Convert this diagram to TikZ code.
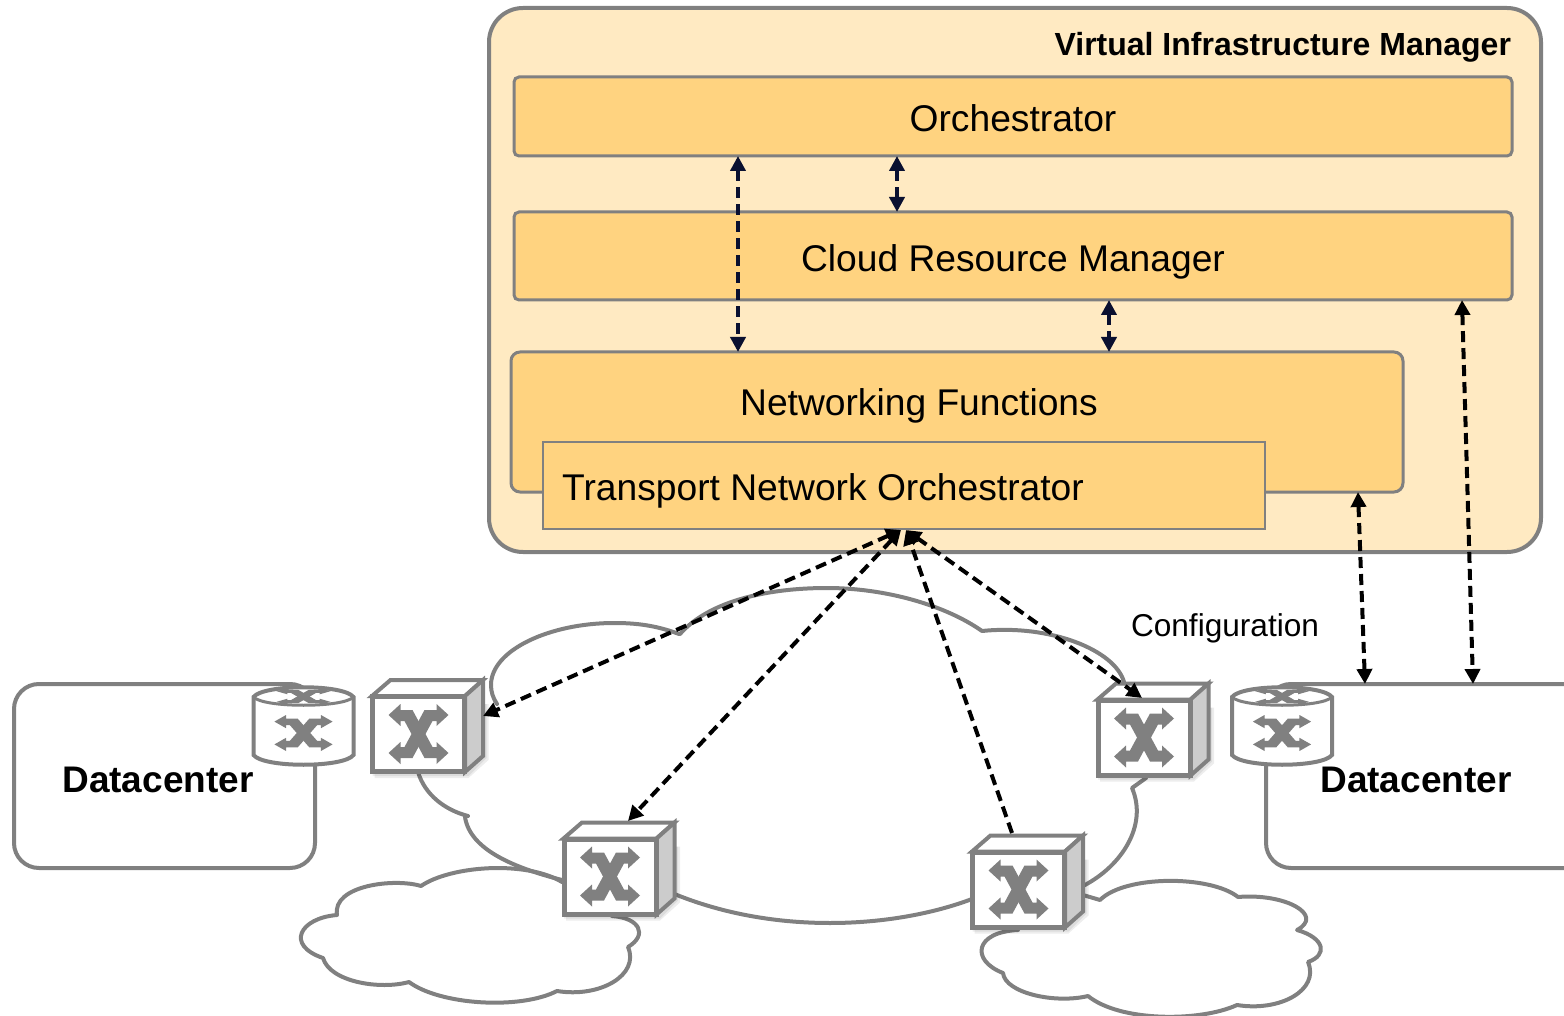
\documentclass[tikz,border=0pt]{standalone}
\usepackage{fontspec}
\setmainfont{Liberation Sans}
\usetikzlibrary{arrows.meta,calc}
\definecolor{grayline}{HTML}{808080}
\definecolor{vimfill}{HTML}{FFEAC2}
\definecolor{boxfill}{HTML}{FFD380}
\definecolor{sidefill}{HTML}{CCCCCC}
\definecolor{navyink}{HTML}{0A1030}
\tikzset{
  x=1pt,y=-1pt,
  every node/.style={inner sep=0pt,outer sep=0pt},
  outerbox/.style={draw=grayline,line width=4pt,fill=vimfill,rounded corners=34pt},
  layerbox/.style={draw=grayline,line width=3pt,fill=boxfill,rounded corners=5pt,font=\fontsize{37.2}{40}\selectfont,text height=31pt,text depth=0pt},
  tnobox/.style={draw=grayline,line width=2.5pt,fill=boxfill},
  dcbox/.style={draw=grayline,line width=4pt,fill=white,rounded corners=25pt},
  mainlabel/.style={font=\fontsize{37.2}{40}\selectfont,anchor=base},
  dclabel/.style={font=\bfseries\fontsize{37}{40}\selectfont,anchor=base},
  vimlabel/.style={font=\bfseries\fontsize{32}{36}\selectfont,anchor=base east},
  conflabel/.style={font=\fontsize{31.6}{36}\selectfont,anchor=base},
  cloudline/.style={draw=grayline,line width=4pt,line cap=round,line join=round},
  link/.style={draw=black,line width=4pt,dash pattern=on 11pt off 6pt,{Triangle[length=15pt,width=15pt]}-{Triangle[length=15pt,width=15pt]}},
  navylink/.style={link,draw=navyink},
  uplink/.style={draw=black,line width=4pt,dash pattern=on 11pt off 6pt,-{Triangle[length=15pt,width=15pt]}},
  unitline/.style={draw=grayline,line width=4pt,line join=miter},
  softshade/.style={fill=black,opacity=.07},
  xglyph/.pic={
    \fill[grayline] (-30,-19)--(-18,-30)--(-18,-24)--(-6,-24)--(14,13)--(18,13)--(18,8)--(30,19)--(18,30)--(18,24)--(6,24)--(-14,-13)--(-18,-13)--(-18,-8)--cycle;
    \fill[grayline] (30,-19)--(18,-30)--(18,-24)--(6,-24)--(-14,13)--(-18,13)--(-18,8)--(-30,19)--(-18,30)--(-18,24)--(-6,24)--(14,-13)--(18,-13)--(18,-8)--cycle;
  },
  switchunit/.pic={
    \fill[softshade] (-44,-30) -- (70,-30) -- (70,26) -- (50,44) -- (-44,44) -- cycle;
    \fill[softshade] (-46,-30) -- (68,-30) -- (68,24) -- (50,42) -- (-46,42) -- cycle;
    \filldraw[unitline,fill=white] (-46.5,-38)--(-28,-54)--(64.5,-54)--(46.5,-38)--cycle;
    \filldraw[unitline,fill=sidefill] (46.5,-38)--(64.5,-54)--(64.5,22)--(46.5,38)--cycle;
    \node[draw=grayline,line width=5pt,fill=white,minimum width=92pt,minimum height=75pt] (-front) at (0,0) {};
    \pic at (0,0) {xglyph};
  },
  routerunit/.pic={
    \filldraw[unitline,fill=white] (-50,-34) -- (-50,24) .. controls (-40,37) and (40,37) .. (50,24) -- (50,-34) .. controls (40,-47) and (-40,-47) .. (-50,-34) -- cycle;
    \draw[unitline,line width=3pt] (-50,-34) .. controls (-40,-23) and (40,-23) .. (50,-34);
    \node (-body) at (0,0) {};
    \pic[xscale=.97,yscale=.6] at (0,2) {xglyph};
    \pic[xscale=.9,yscale=.28] at (0,-34.5) {xglyph};
  }
}
\begin{document}
\begin{tikzpicture}
\useasboundingbox (0,0) rectangle (1564,1016);
% virtual infrastructure manager
\node[outerbox,minimum width=1052pt,minimum height=544pt] (vim) at (1015,280) {};
\node[layerbox,minimum width=998pt,minimum height=79pt] (orch) at (1013,116.5) {Orchestrator};
\node[layerbox,minimum width=998pt,minimum height=88pt] (crm) at (1013,256) {Cloud Resource Manager};
\node[layerbox,rounded corners=9pt,minimum width=892pt,minimum height=140pt] (nf) at (957,422) {};
\node[tnobox,minimum width=722pt,minimum height=87pt] (tno) at (904,485.5) {};
\node[vimlabel] (vimtext) at (1511,55.5) {Virtual Infrastructure Manager};
\node[mainlabel] (nftext) at (919,415) {Networking Functions};
\node[mainlabel] (tnotext) at (823,500) {Transport Network Orchestrator};
\node[conflabel] (conf) at (1225,636) {Configuration};
% clouds
\draw[cloudline]
  (418,772) .. controls (425,795) and (445,810) .. (468,816)
  (465,817) .. controls (470,850) and (515,868) .. (562,880)
  (672,893) .. controls (725,915) and (780,923) .. (830,923) .. controls (885,923) and (935,913) .. (972,899)
  (1083,886) .. controls (1122,866) and (1148,825) .. (1132,788) -- (1146,778)
  (1124,682) .. controls (1115,650) and (1050,624) .. (982,631)
  .. controls (945,605) and (885,588) .. (827,588) .. controls (770,588) and (710,600) .. (680,634)
  (679,634) .. controls (655,625) and (635,623) .. (614,623) .. controls (550,623) and (491,650) .. (491,685) .. controls (491,692) and (493,698) .. (497,704);
\draw[cloudline]
  (562,882) .. controls (525,860) and (450,866) .. (421,886)
  .. controls (395,878) and (332,885) .. (337,915)
  .. controls (300,918) and (285,945) .. (323,958)
  .. controls (330,982) and (380,990) .. (409,982)
  .. controls (440,1005) and (520,1010) .. (557,991)
  .. controls (600,998) and (640,975) .. (628,947)
  .. controls (648,935) and (640,918) .. (612,916);
\draw[cloudline]
  (1083,895) -- (1100,900)
  .. controls (1125,875) and (1210,875) .. (1238,897)
  .. controls (1285,893) and (1325,915) .. (1297,930)
  .. controls (1325,938) and (1328,955) .. (1308,962)
  .. controls (1320,990) and (1280,1012) .. (1237,1005)
  .. controls (1200,1022) and (1120,1022) .. (1088,996)
  .. controls (1055,1004) and (1005,993) .. (1003,973)
  .. controls (970,960) and (975,932) .. (1018,930);
% datacenters
\node[dcbox,minimum width=301pt,minimum height=184pt] (dca) at (164.5,776) {};
\node[dcbox,minimum width=340pt,minimum height=184pt] (dcb) at (1436,776) {};
\node[dclabel] (dcatext) at (158,792) {Datacenter};
\pic (ra) at (303.5,731) {routerunit};
\pic (rb) at (1282,731) {routerunit};
\node[dclabel] (dcbtext) at (1416,792) {Datacenter};
% switches
\pic (sa) at (418.5,734) {switchunit};
\pic (sb) at (610,876.5) {switchunit};
\pic (sc) at (1018.5,889.5) {switchunit};
\pic (sd) at (1144,737.5) {switchunit};
% connector ends
\coordinate (xa) at (738,0);
\coordinate (xb) at (897,0);
\coordinate (xc) at (1109,0);
\coordinate (xd) at (1462,0);
\coordinate (xe) at (1473,0);
\coordinate (xf) at (1358,0);
\coordinate (xg) at (1365,0);
\coordinate (hubl) at (901,530);
\coordinate (hubr) at (906,530);
\coordinate (satip) at (483,716);
\coordinate (sbtip) at (628,821);
\coordinate (sctail) at (1012,833);
\coordinate (sdtip) at (1142,698);
% connectors
\draw[navylink] (orch.south -| xa) -- (nf.north -| xa);
\draw[navylink] (orch.south -| xb) -- (crm.north -| xb);
\draw[navylink] (crm.south -| xc) -- (nf.north -| xc);
\draw[link] (crm.south -| xd) -- (dcb.north -| xe);
\draw[link] (nf.south -| xf) -- (dcb.north -| xg);
\draw[link] (hubl) -- (satip);
\draw[link] (hubl) -- (sbtip);
\draw[link] (hubr) -- (sdtip);
\draw[uplink] (sctail) -- (hubr);
\end{tikzpicture}
\end{document}
